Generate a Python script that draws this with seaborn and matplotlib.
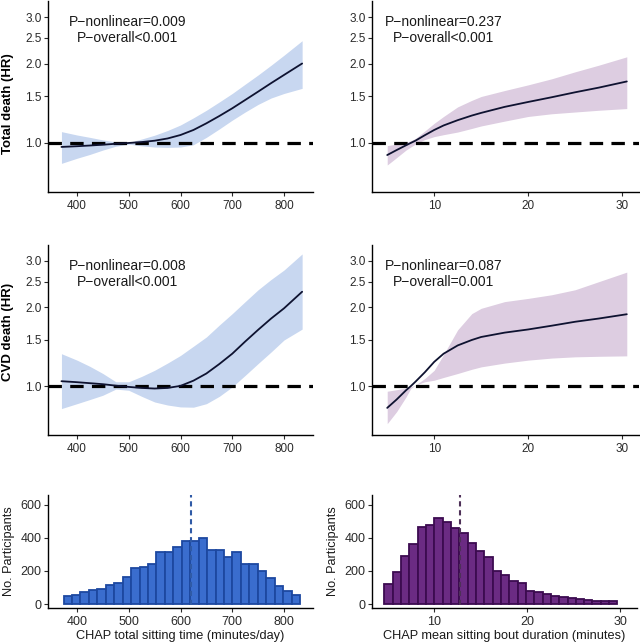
import numpy as np
import pandas as pd
import matplotlib
matplotlib.use("Agg")
import matplotlib.pyplot as plt
import seaborn as sns

# ---------------- data ----------------
# Total sitting time (minutes/day) spline
sit_x = [370, 400, 425, 450, 475, 500, 525, 550, 575, 600, 625, 650, 675, 700, 725, 750, 775, 800, 835]
total_sit_hr = [0.966, 0.972, 0.978, 0.985, 0.993, 1.0, 1.008, 1.02, 1.04, 1.072, 1.12, 1.187, 1.265, 1.353, 1.455, 1.565, 1.685, 1.81, 2.0]
total_sit_hi = [1.104, 1.072, 1.05, 1.027, 1.01, 1.005, 1.035, 1.07, 1.115, 1.17, 1.245, 1.33, 1.43, 1.54, 1.67, 1.81, 1.97, 2.15, 2.44]
total_sit_lo = [0.837, 0.875, 0.905, 0.94, 0.972, 0.99, 0.975, 0.965, 0.962, 0.965, 0.985, 1.05, 1.13, 1.22, 1.31, 1.40, 1.48, 1.54, 1.61]

cvd_sit_hr = [1.045, 1.036, 1.027, 1.018, 1.005, 0.994, 0.985, 0.98, 0.985, 1.003, 1.05, 1.118, 1.215, 1.33, 1.48, 1.64, 1.81, 1.98, 2.29]
cvd_sit_hi = [1.33, 1.257, 1.19, 1.118, 1.04, 1.04, 1.09, 1.15, 1.225, 1.31, 1.42, 1.54, 1.71, 1.89, 2.1, 2.33, 2.55, 2.77, 3.19]
cvd_sit_lo = [0.822, 0.858, 0.89, 0.924, 0.975, 0.965, 0.915, 0.871, 0.848, 0.834, 0.832, 0.858, 0.915, 0.994, 1.1, 1.22, 1.35, 1.50, 1.65]

# Mean sitting bout duration (minutes) spline
bout_x = [5, 6, 7, 7.5, 8, 9, 10, 11, 12.5, 14, 15, 17.5, 20, 22.5, 25, 27.5, 30.5]
total_bout_hr = [0.90, 0.94, 0.98, 1.0, 1.02, 1.07, 1.12, 1.165, 1.22, 1.27, 1.30, 1.37, 1.43, 1.49, 1.556, 1.62, 1.71]
total_bout_hi = [0.977, 0.99, 1.005, 1.02, 1.04, 1.11, 1.187, 1.26, 1.37, 1.45, 1.5, 1.58, 1.66, 1.75, 1.86, 1.97, 2.12]
total_bout_lo = [0.825, 0.88, 0.94, 0.965, 0.99, 1.03, 1.057, 1.075, 1.10, 1.135, 1.16, 1.21, 1.26, 1.29, 1.31, 1.33, 1.35]

cvd_bout_hr = [0.827, 0.89, 0.965, 1.0, 1.04, 1.13, 1.238, 1.33, 1.43, 1.50, 1.54, 1.60, 1.645, 1.70, 1.76, 1.81, 1.88]
cvd_bout_hi = [0.957, 0.97, 0.985, 0.994, 1.01, 1.07, 1.15, 1.32, 1.64, 1.89, 1.98, 2.1, 2.16, 2.23, 2.33, 2.5, 2.72]
cvd_bout_lo = [0.72, 0.80, 0.91, 0.98, 1.01, 1.04, 1.054, 1.08, 1.118, 1.16, 1.185, 1.225, 1.257, 1.28, 1.294, 1.30, 1.305]

p_texts = {
    "tl": ("P\u2212nonlinear=0.009", "P\u2212overall<0.001"),
    "tr": ("P\u2212nonlinear=0.237", "P\u2212overall<0.001"),
    "ml": ("P\u2212nonlinear=0.008", "P\u2212overall<0.001"),
    "mr": ("P\u2212nonlinear=0.087", "P\u2212overall=0.001"),
}

# Histograms
sit_bin_start, sit_bin_end = 374, 831
sit_counts = [46, 56, 70, 87, 88, 117, 126, 164, 217, 227, 241, 318, 318, 344, 380, 384, 402, 328, 328, 283, 313, 242, 242, 200, 158, 112, 77, 57]
sit_median = 621

bout_bin_start, bout_bin_end = 4.72, 29.7
bout_counts = [121, 193, 292, 365, 466, 480, 520, 494, 463, 431, 368, 322, 285, 201, 178, 139, 130, 78, 74, 62, 47, 40, 34, 32, 25, 21, 20, 17]
bout_median = 12.8

hr_ticks = [1.0, 1.5, 2.0, 2.5, 3.0]
hr_tick_labels = ["1.0", "1.5", "2.0", "2.5", "3.0"]
sit_ticks = [400, 500, 600, 700, 800]
bout_ticks = [10, 20, 30]
count_ticks = [0, 200, 400, 600]

# ---------------- style ----------------
sns.set_theme(style="ticks")
plt.rcParams["font.family"] = ["Liberation Sans", "DejaVu Sans"]

BLUE_BAND = "#c8d7f0"
PURPLE_BAND = "#ddcde1"
CURVE = "#0e1230"
BLUE_FILL = "#3a6dce"
BLUE_EDGE = "#1d48a0"
PURPLE_FILL = "#6b2b83"
PURPLE_EDGE = "#3c0b50"
TICKC = "#2a2a2a"

W, H = 640, 643
fig = plt.figure(figsize=(W / 100, H / 100), dpi=100)


def add_ax(x0, x1, y0, y1):
    return fig.add_axes([x0 / W, 1 - y1 / H, (x1 - x0) / W, (y1 - y0) / H])


def style_ax(ax, tick_fs=8.5):
    sns.despine(ax=ax)
    for s in ["left", "bottom"]:
        ax.spines[s].set_color("black")
        ax.spines[s].set_linewidth(1.0)
    ax.tick_params(axis="both", which="major", length=3, width=0.8, color=TICKC,
                   labelcolor=TICKC, labelsize=tick_fs)
    ax.tick_params(axis="x", pad=3)
    ax.tick_params(axis="y", pad=1.5)
    ax.tick_params(which="minor", length=0)
    ax.set_xlabel("")
    ax.set_ylabel("")


def spline_panel(ax, x, hr, lo, hi, band, xlim, xticks, ptxt, ptx, ylabel=None, ylab_y=0.5):
    df = pd.DataFrame({"x": x, "hr": hr, "lo": lo, "hi": hi})
    ax.fill_between(df["x"], df["lo"], df["hi"], color=band, lw=0, zorder=1)
    ax.axhline(1.0, color="black", lw=2.3, dashes=(4.2, 2.6), zorder=2)
    sns.lineplot(data=df, x="x", y="hr", ax=ax, color=CURVE, lw=1.3, zorder=3)
    ax.set_yscale("log")
    ax.set_ylim(0.652, 3.45)
    ax.set_yticks(hr_ticks)
    ax.set_yticklabels(hr_tick_labels)
    ax.yaxis.set_minor_locator(matplotlib.ticker.NullLocator())
    ax.set_xlim(*xlim)
    ax.set_xticks(xticks)
    style_ax(ax)
    ax.text(ptx, 2.87, ptxt[0], ha="center", va="center", fontsize=10, color="#1a1a1a")
    ax.text(ptx, 2.5, ptxt[1], ha="center", va="center", fontsize=10, color="#1a1a1a")
    if ylabel:
        ax.set_ylabel(ylabel, fontweight="bold", fontsize=9.5, color="black")
        ax.yaxis.set_label_coords(-0.128, ylab_y)


sit_xlim = (344, 856)
bout_xlim = (3.38, 31.8)

ax_tl = add_ax(48, 313, 1, 192)
spline_panel(ax_tl, sit_x, total_sit_hr, total_sit_lo, total_sit_hi, BLUE_BAND, sit_xlim, sit_ticks,
             p_texts["tl"], 497, "Total death (HR)", 0.463)

ax_tr = add_ax(372, 639, 1, 192)
spline_panel(ax_tr, bout_x, total_bout_hr, total_bout_lo, total_bout_hi, PURPLE_BAND, bout_xlim, bout_ticks,
             p_texts["tr"], 11.0)

ax_ml = add_ax(48, 313, 245, 435)
spline_panel(ax_ml, sit_x, cvd_sit_hr, cvd_sit_lo, cvd_sit_hi, BLUE_BAND, sit_xlim, sit_ticks,
             p_texts["ml"], 498, "CVD death (HR)", 0.54)

ax_mr = add_ax(372, 639, 245, 435)
spline_panel(ax_mr, bout_x, cvd_bout_hr, cvd_bout_lo, cvd_bout_hi, PURPLE_BAND, bout_xlim, bout_ticks,
             p_texts["mr"], 11.0)


def hist_panel(ax, start, end, counts, fill, edge, med, medc, xlim, xticks, xlabel, ylab_x):
    edges = np.linspace(start, end, len(counts) + 1)
    centers = (edges[:-1] + edges[1:]) / 2
    df = pd.DataFrame({"x": centers, "n": counts})
    sns.histplot(data=df, x="x", weights="n", bins=edges.tolist(), ax=ax, color=fill,
                 edgecolor=edge, linewidth=1.3, alpha=1.0)
    ax.axvline(med, color=medc, lw=1.5, dashes=(2.5, 1.8), ymin=0.03, ymax=1.0)
    ax.set_xlim(*xlim)
    ax.set_ylim(-24, 660)
    ax.set_xticks(xticks)
    ax.set_yticks(count_ticks)
    style_ax(ax, tick_fs=9)
    ax.set_xlabel(xlabel, fontsize=9.2, color="#1a1a1a", labelpad=1)
    ax.set_ylabel("No. Participants", fontsize=9.2, color="#1a1a1a")
    ax.yaxis.set_label_coords(ylab_x, 0.5)


ax_bl = add_ax(48, 313, 495, 608)
hist_panel(ax_bl, sit_bin_start, sit_bin_end, sit_counts, BLUE_FILL, BLUE_EDGE, sit_median, "#2f5aa6",
           sit_xlim, sit_ticks, "CHAP total sitting time (minutes/day)", -0.123)

ax_br = add_ax(372, 637, 495, 608)
hist_panel(ax_br, bout_bin_start, bout_bin_end, bout_counts, PURPLE_FILL, PURPLE_EDGE, bout_median, "#4e3058",
           bout_xlim, bout_ticks, "CHAP mean sitting bout duration (minutes)", -0.125)

fig.savefig("out.png", dpi=100, facecolor="white")
